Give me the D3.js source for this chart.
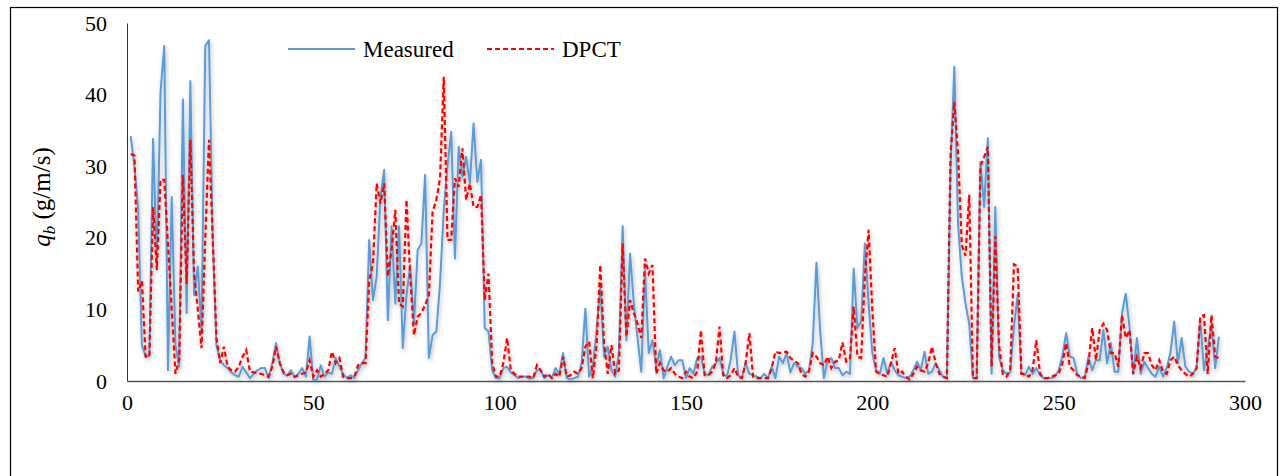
<!DOCTYPE html>
<html>
<head>
<meta charset="utf-8">
<script src="https://cdn.jsdelivr.net/npm/d3@7"></script>
<style>
  body { margin: 0; background: #fff; }
  text { font-family: "Liberation Serif", "Times New Roman", serif; fill: #000; }
</style>
</head>
<body>
<div id="chart"></div>
<script>
// ---- data ----
var measured = [
  34.2, 30, 24, 5, 3.5, 3.5, 33.8, 16, 40.4, 46.8,
  1.5, 25.7, 5, 2, 39.3, 9.5, 41.9, 12, 16, 7,
  46.8, 47.6, 20, 5, 2.9, 2.2, 1.8, 1.2, 0.8, 0.6,
  2, 1.2, 0.4, 1, 1.5, 1.8, 1.8, 0.4, 2.5, 5.3,
  2.5, 1, 0.8, 1.5, 0.5, 1, 1.8, 0.6, 6.2, 0.1,
  0.2, 2.2, 0.6, 1.2, 1, 3.2, 2, 1, 0.4, 0.8,
  0.4, 1.5, 2.5, 3.2, 19.7, 11.3, 14.6, 25.7, 29.5, 8.5,
  21.6, 10.8, 21.6, 4.6, 12, 16.2, 8, 18.3, 19.2, 28.8,
  3.2, 6.4, 6.9, 13.6, 23.9, 30, 34.8, 17.1, 32.7, 28.5,
  31.3, 27.6, 36, 27.8, 30.9, 7.4, 6.9, 1.5, 0.4, 0.4,
  1.8, 2, 1.2, 0.8, 0.4, 0.6, 0.6, 0.3, 0.4, 1.5,
  1.5, 0.4, 0.8, 0.4, 1.8, 1, 3.9, 0.4, 0.2, 0.4,
  0.6, 2.5, 10.1, 0.6, 2, 7, 13.2, 3.4, 4.8, 1.5,
  0.6, 4, 21.6, 5.7, 17.8, 10.8, 6, 1.3, 15.5, 3.9,
  5.7, 2, 4.3, 0.4, 2, 3.4, 2.2, 2.9, 2.9, 0.4,
  1.8, 1, 3.2, 3.4, 1, 0.8, 2, 2.5, 3.2, 1,
  0.6, 3, 6.9, 0.8, 0.4, 2.5, 1, 0.8, 0.6, 0.4,
  1, 0.4, 2, 0.4, 3.4, 2.5, 3.9, 1.2, 2.5, 2,
  1.8, 1, 1.5, 5.3, 16.5, 7, 0.4, 2.9, 3.2, 1.8,
  1.8, 0.8, 1.3, 1, 15.7, 7.4, 8.3, 19.2, 10.8, 3.9,
  1.5, 1, 3.2, 1, 2.7, 1.5, 0.8, 0.6, 0.4, 0.6,
  1.5, 2.7, 1.5, 4.1, 1, 1.3, 2.5, 1.5, 0.6, 0.4,
  30, 43.9, 22, 14.6, 10.8, 8, 0.4, 0.4, 30.6, 24.3,
  33.9, 1, 24.3, 3.4, 1.5, 1, 1.2, 7.6, 12, 1,
  0.8, 2, 1, 1.8, 0.8, 0.4, 0.4, 0.4, 0.6, 1.5,
  3.5, 6.7, 3.4, 3.2, 1, 0.4, 0.6, 3.4, 1.5, 2.9,
  2.9, 7.1, 2.5, 5.3, 1.3, 1.3, 9.5, 12.2, 7.6, 1,
  6, 1, 2.7, 1.8, 1, 0.6, 2, 0.6, 1.8, 4,
  8.3, 2.5, 6, 2, 1.3, 1, 1.8, 8.5, 1.5, 4.5,
  8, 1.8, 6.2
];

var dpct = [
  31.7, 31.5, 12.5, 14, 3.4, 3.4, 24.3, 15.5, 28.1, 28.1,
  19, 10, 1, 3, 28.8, 13.6, 33.7, 15, 10, 4.6,
  20, 33.7, 20, 6, 2.5, 4.8, 2, 1.5, 1.3, 2,
  3.4, 4.3, 1.3, 1.2, 1.1, 1, 0.8, 0.6, 2, 4.8,
  2.5, 1.2, 0.8, 1, 0.6, 0.8, 1, 1.2, 2.9, 0.6,
  1.5, 0.6, 1, 1.5, 4.1, 2.5, 3.2, 0.6, 0.4, 0.4,
  0.6, 2.2, 2.5, 2.5, 14, 16.4, 27.6, 24.8, 27.6, 14.6,
  18.3, 23.9, 10.8, 10.4, 25.3, 14.6, 6.4, 9, 9.5, 10.6,
  12, 23.6, 25.3, 28.3, 42.5, 19.7, 19.7, 28.3, 27.1, 32.5,
  25.3, 27.6, 24.3, 24.3, 26, 11.3, 15, 2.5, 0.6, 0.6,
  2.5, 6, 1.5, 1, 0.6, 0.6, 0.6, 0.6, 0.4, 2.2,
  1.5, 0.6, 1, 0.4, 1, 0.6, 3.4, 0.6, 0.8, 1.3,
  1, 1.8, 4.8, 5.5, 0.4, 5, 16.2, 5.3, 1, 5,
  1, 1.5, 19.2, 6.2, 11.3, 9.5, 8, 6, 17.1, 15,
  16.2, 1, 2.5, 1.5, 1.3, 1.8, 1, 0.6, 0.4, 1.3,
  0.6, 0.4, 1.3, 7.1, 0.8, 0.8, 1.3, 2.5, 7.6, 0.8,
  0.4, 0.8, 1.8, 0.6, 0.4, 2.5, 6.7, 0.6, 0.4, 0.4,
  0.4, 0.4, 1.8, 4.1, 3.9, 4, 4.1, 3.2, 2.8, 2.5,
  1, 0.6, 1.3, 3.9, 3.4, 2.5, 2.2, 3.4, 1.8, 2.7,
  2.9, 5.4, 2.7, 3.2, 10.4, 3.4, 3.2, 14.6, 21.1, 9.9,
  1.3, 1, 0.8, 0.6, 2.5, 4.6, 1, 1.3, 0.6, 0.2,
  1, 2, 1.5, 1.3, 2.5, 4.8, 2.5, 1, 0.6, 0.4,
  31.8, 39, 31.8, 19, 17.5, 26, 0.4, 0.4, 30, 31.3,
  32.7, 2, 20.2, 5, 1, 0.6, 1.5, 16.3, 16, 1,
  1, 0.6, 1.5, 5.7, 1, 0.4, 0.4, 0.6, 0.8, 1,
  2.5, 5.3, 2, 1.5, 0.8, 0.6, 0.4, 2.5, 7.4, 2.9,
  7.1, 8, 7.1, 3.9, 3.9, 2, 9.2, 6, 7.1, 1,
  3.4, 1.8, 3.9, 3.9, 2.2, 1.5, 2.9, 1.3, 1, 2.9,
  3.4, 2.2, 1.5, 1, 0.6, 1, 1.8, 9, 9.2, 1,
  9.2, 3.4, 3.2
];

var xTicks = [0, 50, 100, 150, 200, 250, 300];
var yTicks = [0, 10, 20, 30, 40, 50];
var seriesNames = ["Measured", "DPCT"];

// ---- layout ----
var width = 1282, height = 476;
var margin = {left: 127, right: 37, top: 23, bottom: 95};

var svg = d3.select("#chart").append("svg")
    .attr("width", width)
    .attr("height", height);

// outer frame
svg.append("rect")
    .attr("x", 10.5).attr("y", 7.5)
    .attr("width", 1267).attr("height", 480)
    .attr("fill", "none")
    .attr("stroke", "#000")
    .attr("stroke-width", 1.2);

var defs = svg.append("defs");
var shadow = defs.append("filter").attr("id", "shadow")
    .attr("x", "-5%").attr("y", "-5%").attr("width", "110%").attr("height", "115%");
shadow.append("feDropShadow")
    .attr("dx", 1).attr("dy", 2).attr("stdDeviation", 2)
    .attr("flood-color", "#000").attr("flood-opacity", 0.28);

var x = d3.scaleLinear().domain([0, 300]).range([margin.left, width - margin.right]);
var y = d3.scaleLinear().domain([0, 50]).range([height - margin.bottom, margin.top]);

// axes
var yAxis = svg.append("g")
    .attr("transform", "translate(" + margin.left + ",0)")
    .call(d3.axisLeft(y).tickValues(yTicks).tickSize(0).tickPadding(20));
yAxis.select(".domain").attr("stroke", "#333").attr("stroke-width", 1);
yAxis.selectAll("text").attr("font-size", 22).attr("font-family", "Liberation Serif");

var xAxis = svg.append("g")
    .attr("transform", "translate(0," + y(0) + ")")
    .call(d3.axisBottom(x).tickValues(xTicks).tickSize(0).tickPadding(13));
xAxis.select(".domain").attr("stroke", "#555").attr("stroke-width", 1.6);
xAxis.selectAll("text").attr("font-size", 22).attr("font-family", "Liberation Serif");

// y label
var yLabel = svg.append("text")
    .attr("transform", "translate(50,197) rotate(-90)")
    .attr("text-anchor", "middle")
    .attr("font-size", 25);
yLabel.append("tspan").attr("font-style", "italic").text("q");
yLabel.append("tspan").attr("font-style", "italic").attr("font-size", 17).attr("dy", 5).text("b");
yLabel.append("tspan").attr("dy", -5).text(" (g/m/s)");

// lines
var line = d3.line()
    .x(function(d, i) { return x(i + 1); })
    .y(function(d) { return y(d); });

var plot = svg.append("g").attr("filter", "url(#shadow)");

plot.append("path")
    .datum(measured)
    .attr("d", line)
    .attr("fill", "none")
    .attr("stroke", "#5b9bd5")
    .attr("stroke-width", 2)
    .attr("stroke-linejoin", "round");

plot.append("path")
    .datum(dpct)
    .attr("d", line)
    .attr("fill", "none")
    .attr("stroke", "#ff0000")
    .attr("stroke-width", 2.2)
    .attr("stroke-dasharray", "5,3");

// legend
var legend = svg.append("g");
var legendItems = [
  {name: seriesNames[0], color: "#5b9bd5", dash: null, x0: 288},
  {name: seriesNames[1], color: "#ff0000", dash: "5,3", x0: 487}
];
legendItems.forEach(function(d) {
  legend.append("line")
      .attr("x1", d.x0).attr("x2", d.x0 + 67)
      .attr("y1", 49).attr("y2", 49)
      .attr("stroke", d.color)
      .attr("stroke-width", 2)
      .attr("stroke-dasharray", d.dash);
  legend.append("text")
      .attr("x", d.x0 + 75).attr("y", 57)
      .attr("font-size", 23)
      .text(d.name);
});
</script>
</body>
</html>
